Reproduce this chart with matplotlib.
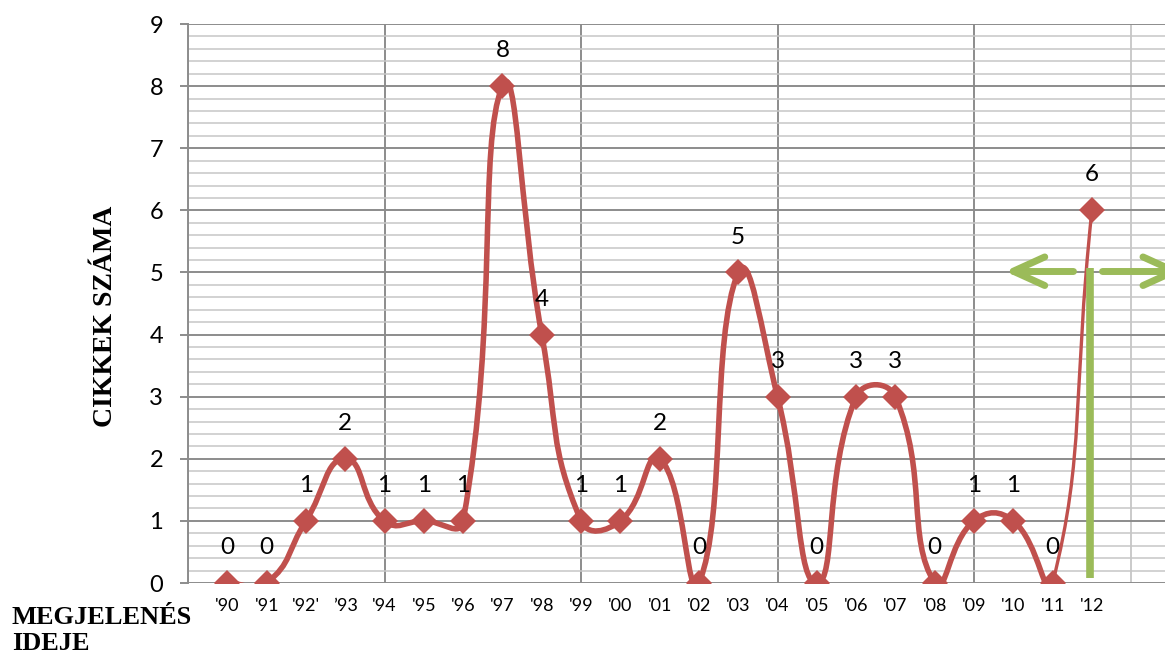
import matplotlib
matplotlib.use('Agg')
import matplotlib.pyplot as plt
import numpy as np
from matplotlib.path import Path
from matplotlib.patches import PathPatch

plt.rcParams['font.family'] = ['Lato', 'DejaVu Sans']

## adatok
years = ["'90", "'91", "'92'", "\u201993", "'94", "'95", "'96", "'97", "'98", "'99", "'00",
         "'01", "'02", "'03", "'04", "'05", "'06", "'07", "'08", "'09", "'10", "'11", "'12"]
counts = [0, 0, 1, 2, 1, 1, 1, 8, 4, 1, 1, 2, 0, 5, 3, 0, 3, 3, 0, 1, 1, 0, 6]

red = '#C0504D'
green = '#9BBB59'
light = '#C6C6C6'
dark = '#8C8C8C'


def smooth_segments(ax, xs, ys, t=0.5):
    # Excel-szeru simitott vonal, kepernyo-koordinatakban szamolva
    trans = ax.transData
    pts = trans.transform(np.column_stack([xs, ys]).astype(float))
    n = len(pts)
    c_in = pts.copy()
    c_out = pts.copy()
    for i in range(n):
        p0 = pts[max(i - 1, 0)]
        p2 = pts[min(i + 1, n - 1)]
        d0 = np.hypot(*(pts[i] - p0))
        d2 = np.hypot(*(p2 - pts[i]))
        tan = p2 - p0
        tot = d0 + d2
        if tot == 0:
            continue
        c_in[i] = pts[i] - tan * t * d0 / tot
        c_out[i] = pts[i] + tan * t * d2 / tot
    inv = trans.inverted()
    segs = []
    for i in range(n - 1):
        seg = np.array([pts[i], c_out[i], c_in[i + 1], pts[i + 1]])
        segs.append(inv.transform(seg))
    return segs


fig = plt.figure(figsize=(11.65, 6.55), dpi=100)
ax = fig.add_axes([0.1614, 0.1099, 0.8386, 0.8534])

x = np.arange(len(counts))
ax.set_xlim(-1, 23.86)
ax.set_ylim(0, 9)

# racs
ax.set_yticks(range(0, 10))
ax.set_yticks(np.arange(0, 9.01, 0.2), minor=True)
ax.set_xticks(x)
ax.set_xticklabels(years, fontsize=13)
ax.set_xticks(np.arange(-1, 24), minor=True)
ax.grid(axis='y', which='minor', color=light, lw=1.1, zorder=0)
ax.grid(axis='x', which='minor', color=light, lw=1.3, zorder=0)
ax.grid(axis='y', which='major', color=dark, lw=1.4, zorder=0)
ax.grid(axis='x', which='major', visible=False)
for xv in [4, 9, 14, 19]:
    ax.axvline(xv, color=dark, lw=1.4, zorder=0.5)
ax.set_axisbelow(True)

for s in ['top', 'right', 'bottom']:
    ax.spines[s].set_visible(False)
ax.spines['left'].set_color(dark)
ax.spines['left'].set_linewidth(1.4)
ax.tick_params(axis='y', which='major', length=6, color=dark, width=1.4, pad=12, labelsize=17)
ax.tick_params(axis='x', which='major', length=0, pad=11)
ax.tick_params(which='minor', length=0)

# simitott gorbe
segs = smooth_segments(ax, x, counts)
verts = [segs[0][0]]
codes = [Path.MOVETO]
for sg in segs[:-1]:
    verts += [sg[1], sg[2], sg[3]]
    codes += [Path.CURVE4] * 3
ax.add_patch(PathPatch(Path(verts, codes), fill=False, edgecolor=red, lw=4,
                       capstyle='round', joinstyle='round', zorder=3))
last = segs[-1]
ax.add_patch(PathPatch(Path(last, [Path.MOVETO] + [Path.CURVE4] * 3), fill=False,
                       edgecolor=red, lw=2.4, zorder=3))
ax.plot(x, counts, linestyle='none', marker='D', ms=13, color=red, mew=0, zorder=4)

for xi, v in zip(x, counts):
    ax.annotate(str(v), (xi, v), xytext=(0, 25.5), textcoords='offset points',
                ha='center', va='center', fontsize=17.5, zorder=5)

# zold nyilak
xl = x[-1]
ax.plot([xl - 0.05, xl - 0.05], [0.08, 5.07], color=green, lw=5.5, solid_capstyle='butt', zorder=6)
ax.plot([xl - 2.0, xl - 0.48], [5.02, 5.02], color=green, lw=5, solid_capstyle='round', zorder=6)
ax.plot([xl - 1.2, xl - 2.0, xl - 1.2], [5.25, 5.02, 4.79], color=green, lw=5,
        solid_capstyle='round', solid_joinstyle='round', zorder=6)
ax.plot([xl + 0.26, xl + 2.1], [5.02, 5.02], color=green, lw=5, solid_capstyle='round',
        zorder=6, clip_on=False)
ax.plot([xl + 1.3, xl + 2.1, xl + 1.3], [5.25, 5.02, 4.79], color=green, lw=5,
        solid_capstyle='round', solid_joinstyle='round', zorder=6, clip_on=False)

# tengelyfeliratok
fig.text(105 / 1165, 1 - 316 / 655, 'CIKKEK SZÁMA', rotation=90, ha='center', va='center',
         family='Liberation Serif', fontweight='bold', fontsize=20)
fig.text(12 / 1165, 1 - 624 / 655, 'MEGJELENÉS', ha='left', va='baseline',
         family='Liberation Serif', fontweight='bold', fontsize=19)
fig.text(12 / 1165, 1 - 650 / 655, 'IDEJE', ha='left', va='baseline',
         family='Liberation Serif', fontweight='bold', fontsize=19)

fig.savefig('out.png', dpi=100)
